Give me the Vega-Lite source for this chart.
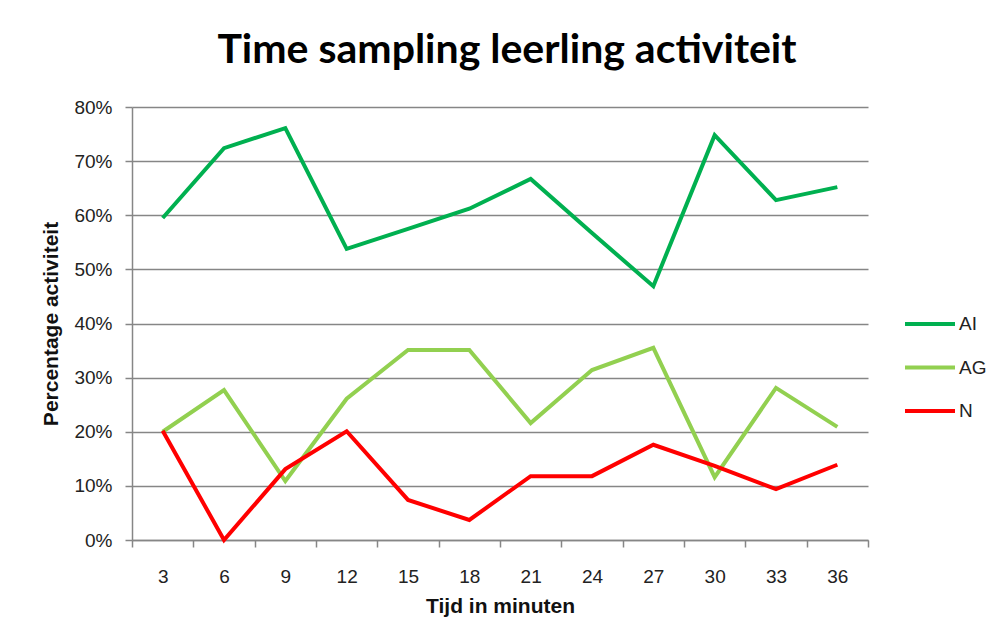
{
  "$schema": "https://vega.github.io/schema/vega-lite/v6.json",
  "width": 736,
  "height": 433,
  "autosize": {"type": "none"},
  "padding": {"left": 132, "top": 107, "right": 138, "bottom": 101},
  "background": "white",
  "title": {
    "text": "Time sampling leerling activiteit",
    "font": "Lato",
    "fontSize": 41,
    "fontWeight": "bold",
    "color": "#000000",
    "anchor": "middle",
    "offset": 26,
    "dx": 7
  },
  "data": {
    "values": [
      {"t": "3", "s": "AI", "v": 0.595}, {"t": "6", "s": "AI", "v": 0.724}, {"t": "9", "s": "AI", "v": 0.761},
      {"t": "12", "s": "AI", "v": 0.538}, {"t": "15", "s": "AI", "v": 0.575}, {"t": "18", "s": "AI", "v": 0.612},
      {"t": "21", "s": "AI", "v": 0.667}, {"t": "24", "s": "AI", "v": 0.567}, {"t": "27", "s": "AI", "v": 0.469},
      {"t": "30", "s": "AI", "v": 0.748}, {"t": "33", "s": "AI", "v": 0.628}, {"t": "36", "s": "AI", "v": 0.652},
      {"t": "3", "s": "AG", "v": 0.2}, {"t": "6", "s": "AG", "v": 0.277}, {"t": "9", "s": "AG", "v": 0.109},
      {"t": "12", "s": "AG", "v": 0.261}, {"t": "15", "s": "AG", "v": 0.351}, {"t": "18", "s": "AG", "v": 0.351},
      {"t": "21", "s": "AG", "v": 0.216}, {"t": "24", "s": "AG", "v": 0.314}, {"t": "27", "s": "AG", "v": 0.355},
      {"t": "30", "s": "AG", "v": 0.116}, {"t": "33", "s": "AG", "v": 0.281}, {"t": "36", "s": "AG", "v": 0.209},
      {"t": "3", "s": "N", "v": 0.202}, {"t": "6", "s": "N", "v": 0.0}, {"t": "9", "s": "N", "v": 0.131},
      {"t": "12", "s": "N", "v": 0.201}, {"t": "15", "s": "N", "v": 0.074}, {"t": "18", "s": "N", "v": 0.037},
      {"t": "21", "s": "N", "v": 0.118}, {"t": "24", "s": "N", "v": 0.118}, {"t": "27", "s": "N", "v": 0.176},
      {"t": "30", "s": "N", "v": 0.137}, {"t": "33", "s": "N", "v": 0.094}, {"t": "36", "s": "N", "v": 0.139}
    ]
  },
  "mark": {"type": "line", "strokeWidth": 4, "strokeJoin": "miter"},
  "encoding": {
    "x": {
      "field": "t",
      "type": "ordinal",
      "sort": null,
      "scale": {"type": "band", "paddingInner": 0, "paddingOuter": 0},
      "axis": {
        "title": "Tijd in minuten",
        "labelAngle": 0,
        "tickBand": "extent",
        "labelPadding": 20,
        "titlePadding": 9
      }
    },
    "y": {
      "field": "v",
      "type": "quantitative",
      "scale": {"domain": [0, 0.8]},
      "axis": {
        "title": "Percentage activiteit",
        "format": ".0%",
        "values": [0, 0.1, 0.2, 0.3, 0.4, 0.5, 0.6, 0.7, 0.8],
        "labelOverlap": false,
        "labelPadding": 13,
        "titlePadding": 12,
        "grid": true
      }
    },
    "color": {
      "field": "s",
      "type": "nominal",
      "sort": ["AI", "AG", "N"],
      "scale": {"domain": ["AI", "AG", "N"], "range": ["#00B050", "#92D050", "#FF0000"]},
      "legend": {
        "title": null,
        "orient": "none",
        "legendX": 771,
        "legendY": 190,
        "symbolType": "stroke",
        "symbolSize": 2500,
        "symbolStrokeWidth": 4,
        "rowPadding": 6.5,
        "labelOffset": 2,
        "labelFontSize": 19,
        "labelFont": "Liberation Sans",
        "labelColor": "#222222"
      }
    }
  },
  "config": {
    "view": {"stroke": null},
    "axis": {
      "labelFont": "Liberation Sans",
      "labelFontSize": 19,
      "labelColor": "#222222",
      "titleFont": "Liberation Sans",
      "titleFontSize": 21,
      "titleFontWeight": "bold",
      "titleColor": "#111111",
      "domainColor": "#868686",
      "domainWidth": 1.5,
      "tickColor": "#868686",
      "tickWidth": 1.5,
      "tickSize": 7,
      "gridColor": "#868686",
      "gridWidth": 1.5
    }
  }
}
